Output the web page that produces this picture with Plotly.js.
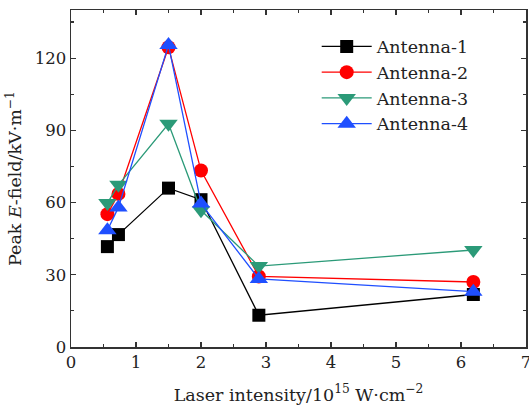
<!DOCTYPE html>
<html><head><meta charset="utf-8">
<script src="https://cdn.plot.ly/plotly-3.0.1.min.js"></script>
<style>html,body{margin:0;padding:0;background:#fff}#chart{width:529px;height:408px}</style>
</head><body><div id="chart"></div>
<script>
const seriesNames = ["Antenna-1", "Antenna-2", "Antenna-3", "Antenna-4"];
const xA1 = [0.56, 0.73, 1.5, 2.0, 2.89, 6.19];
const yA1 = [41.7, 46.7, 66.0, 61.2, 13.2, 21.8];
const xA2 = [0.56, 0.73, 1.5, 2.0, 2.89, 6.19];
const yA2 = [55.2, 63.6, 124.5, 73.3, 29.3, 27.0];
const xA3 = [0.56, 0.73, 1.5, 2.0, 2.89, 6.19];
const yA3 = [59.8, 67.4, 92.7, 56.8, 33.6, 40.3];
const xA4 = [0.56, 0.73, 1.5, 2.0, 2.89, 6.19];
const yA4 = [48.5, 58.0, 125.5, 59.6, 28.3, 23.0];
const colors = ["#000000", "#ff0000", "#2b9a78", "#1f4fff"];
const symbols = ["square", "circle", "triangle-down", "triangle-up"];
const sizes = [13, 14, 16, 16];
const xs = [xA1, xA2, xA3, xA4];
const ys = [yA1, yA2, yA3, yA4];

const font = "'DejaVu Serif', 'Liberation Serif', serif";
const traces = seriesNames.map((n, i) => ({
  type: "scatter", mode: "lines+markers", name: n,
  x: xs[i], y: ys[i],
  line: {color: colors[i], width: 1.3},
  marker: {symbol: symbols[i], size: sizes[i], color: colors[i]}
}));

const axisCommon = {
  showline: true, linecolor: "#333", linewidth: 1.5, mirror: "allticks",
  ticks: "inside", ticklen: 5, tickwidth: 1.2, tickcolor: "#333",
  showgrid: false, zeroline: false, ticklabeloverflow: "allow",
  tickfont: {family: font, size: 16.5, color: "#222"}
};

const layout = {
  width: 529, height: 408,
  margin: {l: 71, r: 3, t: 10, b: 61},
  paper_bgcolor: "#fff", plot_bgcolor: "#fff",
  font: {family: font, color: "#222"},
  showlegend: true,
  legend: {x: 0.54, y: 0.945, xanchor: "left", yanchor: "top",
    bgcolor: "rgba(0,0,0,0)", font: {family: font, size: 17.5, color: "#222"},
    itemwidth: 50, tracegroupgap: 0},
  xaxis: Object.assign({}, axisCommon, {
    range: [0, 7], dtick: 1, tick0: 0,
    minor: {dtick: 0.5, ticks: "inside", ticklen: 3, tickcolor: "#333"},
    title: {text: "Laser intensity/10<sup>15</sup> W·cm<sup>−2</sup>", font: {family: font, size: 17.5, color: "#222"}, standoff: 17}
  }),
  yaxis: Object.assign({}, axisCommon, {
    range: [0, 140], dtick: 30, tick0: 0,
    minor: {dtick: 15, ticks: "inside", ticklen: 3, tickcolor: "#333"},
    title: {text: "Peak <i>E</i>-field/kV·m<sup>−1</sup>", font: {family: font, size: 17.5, color: "#222"}, standoff: 8}
  })
};
Plotly.newPlot("chart", traces, layout, {displayModeBar: false, staticPlot: true});
</script></body></html>
